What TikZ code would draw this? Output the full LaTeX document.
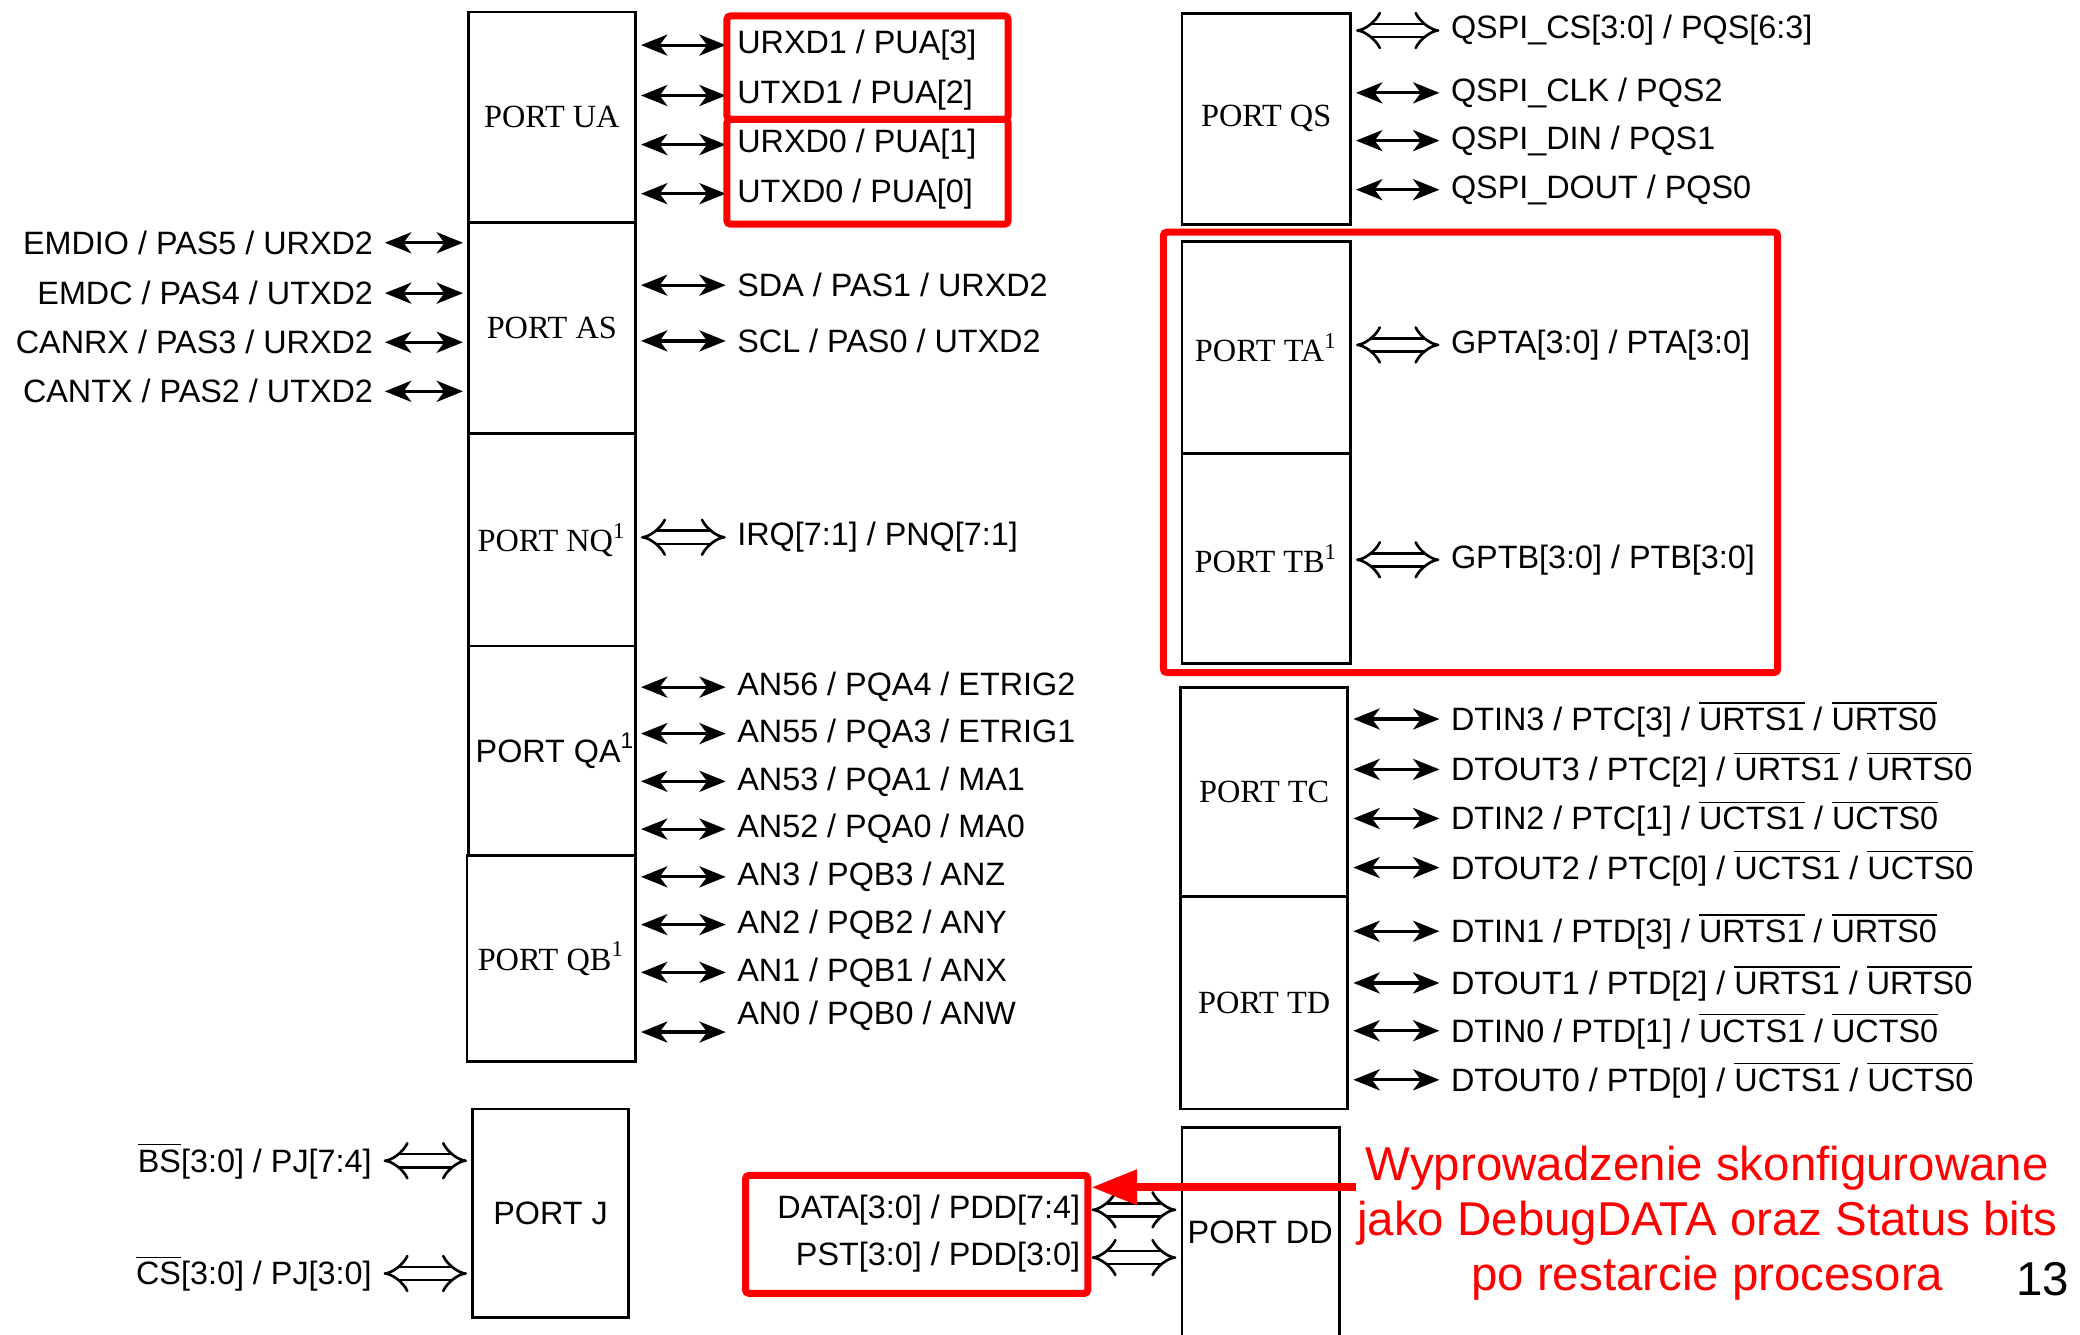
\documentclass[tikz,border=0pt]{standalone}
\usepackage{fontspec}
\setmainfont{Liberation Serif}
\setsansfont{Liberation Sans}
\usepackage{xcolor}
\usetikzlibrary{arrows.meta,fit}
\definecolor{hlred}{HTML}{FF0000}
\newcommand\lblsize{\fontsize{9.2}{11}\selectfont}
\newcommand\ovl[1]{$\overline{\mbox{#1}}$}

\begin{document}
\begin{tikzpicture}[x=0.013265cm,y=-0.013265cm,font=\sffamily\lblsize,
  port/.style={draw,line width=0.8pt,inner sep=0pt},
  portlbl/.style={inner sep=1pt,font=\rmfamily\lblsize},
  sig/.style={inner sep=2pt},
  sigarrow/.style={{Stealth[length=7.5pt,width=6pt,inset=2.2pt]}-{Stealth[length=7.5pt,width=6pt,inset=2.2pt]},line width=0.9pt,shorten <=1.2pt,shorten >=1.1pt},
  busarrow/.style={double,double distance=3pt,line width=0.75pt,{Implies}-{Implies},shorten <=1.2pt,shorten >=1.1pt},
  hl/.style={draw=hlred,line width=2pt,rounded corners=1pt,inner sep=0pt}]
\useasboundingbox (0,0) rectangle (1568,1006);
% left column of ports
\node[port,fit={(353,9)(479,168)}] (ua) {}; \node[portlbl] (ualbl) at (ua) {PORT UA};
\node[port,fit={(353,168)(479,327)}] (as) {}; \node[portlbl] (aslbl) at (as) {PORT AS};
\node[port,fit={(353,327)(479,487)}] (nq) {}; \node[portlbl] (nqlbl) at (nq) {PORT NQ\textsuperscript{1}};
\node[port,fit={(353,487)(479,645)}] (qa) {}; \node[portlbl,font=\sffamily\lblsize,xshift=1pt] (qalbl) at (qa) {PORT QA\textsuperscript{1}};
\node[port,fit={(352,645)(479,800)}] (qb) {}; \node[portlbl] (qblbl) at (qb) {PORT QB\textsuperscript{1}};
\node[port,fit={(356,836)(474,993)}] (pj) {}; \node[portlbl,font=\sffamily\lblsize] (pjlbl) at (pj) {PORT J};
% right column of ports
\node[port,fit={(891,10)(1018,169)}] (qs) {}; \node[portlbl] (qslbl) at (qs) {PORT QS};
\node[port,fit={(891,182)(1018,342)}] (ta) {}; \node[portlbl] (talbl) at (ta) {PORT TA\textsuperscript{1}};
\node[port,fit={(891,342)(1018,500)}] (tb) {}; \node[portlbl] (tblbl) at (tb) {PORT TB\textsuperscript{1}};
\node[port,fit={(890,518)(1016,676)}] (tc) {}; \node[portlbl] (tclbl) at (tc) {PORT TC};
\node[port,fit={(890,676)(1016,836)}] (td) {}; \node[portlbl] (tdlbl) at (td) {PORT TD};
\node[port,fit={(891,850)(1010,1012)}] (dd) {}; \node[portlbl,font=\sffamily\lblsize] (ddlbl) at (950,929) {PORT DD};
% port UA
\node[sig,anchor=west] (u3) at (550,34) {URXD1 / PUA[3]}; \draw[sigarrow] (ua.east |- u3.west) -- (u3.west);
\node[sig,anchor=west] (u2) at (550,72) {UTXD1 / PUA[2]}; \draw[sigarrow] (ua.east |- u2.west) -- (u2.west);
\node[sig,anchor=west] (u1) at (550,109) {URXD0 / PUA[1]}; \draw[sigarrow] (ua.east |- u1.west) -- (u1.west);
\node[sig,anchor=west] (u0) at (550,146) {UTXD0 / PUA[0]}; \draw[sigarrow] (ua.east |- u0.west) -- (u0.west);
% port AS
\node[sig,anchor=east] (a5) at (287,183) {EMDIO / PAS5 / URXD2}; \draw[sigarrow] (a5.east) -- (a5.east -| as.west);
\node[sig,anchor=east] (a4) at (287,221) {EMDC / PAS4 / UTXD2}; \draw[sigarrow] (a4.east) -- (a4.east -| as.west);
\node[sig,anchor=east] (a3) at (287,258) {CANRX / PAS3 / URXD2}; \draw[sigarrow] (a3.east) -- (a3.east -| as.west);
\node[sig,anchor=east] (a2) at (287,295) {CANTX / PAS2 / UTXD2}; \draw[sigarrow] (a2.east) -- (a2.east -| as.west);
\node[sig,anchor=west] (a1) at (550,215) {SDA / PAS1 / URXD2}; \draw[sigarrow] (as.east |- a1.west) -- (a1.west);
\node[sig,anchor=west] (a0) at (550,257) {SCL / PAS0 / UTXD2}; \draw[sigarrow] (as.east |- a0.west) -- (a0.west);
% port NQ
\node[sig,anchor=west] (irq) at (550,405) {IRQ[7:1] / PNQ[7:1]}; \draw[busarrow] (nq.east |- irq.west) -- (irq.west);
% port QA
\node[sig,anchor=west] (qa4) at (550,518) {AN56 / PQA4 / ETRIG2}; \draw[sigarrow] (qa.east |- qa4.west) -- (qa4.west);
\node[sig,anchor=west] (qa3) at (550,553) {AN55 / PQA3 / ETRIG1}; \draw[sigarrow] (qa.east |- qa3.west) -- (qa3.west);
\node[sig,anchor=west] (qa1) at (550,589) {AN53 / PQA1 / MA1}; \draw[sigarrow] (qa.east |- qa1.west) -- (qa1.west);
\node[sig,anchor=west] (qa0) at (550,625) {AN52 / PQA0 / MA0}; \draw[sigarrow] (qa.east |- qa0.west) -- (qa0.west);
% port QB
\node[sig,anchor=west] (qb3) at (550,661) {AN3 / PQB3 / ANZ}; \draw[sigarrow] (qb.east |- qb3.west) -- (qb3.west);
\node[sig,anchor=west] (qb2) at (550,697) {AN2 / PQB2 / ANY}; \draw[sigarrow] (qb.east |- qb2.west) -- (qb2.west);
\node[sig,anchor=west] (qb1) at (550,733) {AN1 / PQB1 / ANX}; \draw[sigarrow] (qb.east |- qb1.west) -- (qb1.west);
\node[sig,anchor=west] (qb0) at (550,766) {AN0 / PQB0 / ANW};
\coordinate (qb0end) at (550,778); \draw[sigarrow] (qb.east |- qb0end) -- (qb0end);
% port J
\node[sig,anchor=east] (bs) at (286,875) {\ovl{BS}[3:0] / PJ[7:4]}; \draw[busarrow] (bs.east) -- (bs.east -| pj.west);
\node[sig,anchor=east] (cs) at (286,960) {\ovl{CS}[3:0] / PJ[3:0]}; \draw[busarrow] (cs.east) -- (cs.east -| pj.west);
% port QS
\node[sig,anchor=west] (qspics) at (1088,23) {QSPI\_CS[3:0] / PQS[6:3]}; \draw[busarrow] (qs.east |- qspics.west) -- (qspics.west);
\node[sig,anchor=west] (qspiclk) at (1088,70) {QSPI\_CLK / PQS2}; \draw[sigarrow] (qs.east |- qspiclk.west) -- (qspiclk.west);
\node[sig,anchor=west] (qspidin) at (1088,106) {QSPI\_DIN / PQS1}; \draw[sigarrow] (qs.east |- qspidin.west) -- (qspidin.west);
\node[sig,anchor=west] (qspidout) at (1088,143) {QSPI\_DOUT / PQS0}; \draw[sigarrow] (qs.east |- qspidout.west) -- (qspidout.west);
% ports TA, TB
\node[sig,anchor=west] (gpta) at (1088,260) {GPTA[3:0] / PTA[3:0]}; \draw[busarrow] (ta.east |- gpta.west) -- (gpta.west);
\node[sig,anchor=west] (gptb) at (1088,422) {GPTB[3:0] / PTB[3:0]}; \draw[busarrow] (tb.east |- gptb.west) -- (gptb.west);
% port TC
\node[sig,anchor=west] (tc3) at (1088,542) {DTIN3 / PTC[3] / \ovl{URTS1} / \ovl{URTS0}}; \draw[sigarrow] (tc.east |- tc3.west) -- (tc3.west);
\node[sig,anchor=west] (tc2) at (1088,580) {DTOUT3 / PTC[2] / \ovl{URTS1} / \ovl{URTS0}}; \draw[sigarrow] (tc.east |- tc2.west) -- (tc2.west);
\node[sig,anchor=west] (tc1) at (1088,617) {DTIN2 / PTC[1] / \ovl{UCTS1} / \ovl{UCTS0}}; \draw[sigarrow] (tc.east |- tc1.west) -- (tc1.west);
\node[sig,anchor=west] (tc0) at (1088,654) {DTOUT2 / PTC[0] / \ovl{UCTS1} / \ovl{UCTS0}}; \draw[sigarrow] (tc.east |- tc0.west) -- (tc0.west);
% port TD
\node[sig,anchor=west] (td3) at (1088,702) {DTIN1 / PTD[3] / \ovl{URTS1} / \ovl{URTS0}}; \draw[sigarrow] (td.east |- td3.west) -- (td3.west);
\node[sig,anchor=west] (td2) at (1088,741) {DTOUT1 / PTD[2] / \ovl{URTS1} / \ovl{URTS0}}; \draw[sigarrow] (td.east |- td2.west) -- (td2.west);
\node[sig,anchor=west] (td1) at (1088,777) {DTIN0 / PTD[1] / \ovl{UCTS1} / \ovl{UCTS0}}; \draw[sigarrow] (td.east |- td1.west) -- (td1.west);
\node[sig,anchor=west] (td0) at (1088,814) {DTOUT0 / PTD[0] / \ovl{UCTS1} / \ovl{UCTS0}}; \draw[sigarrow] (td.east |- td0.west) -- (td0.west);
% port DD
\node[sig,anchor=east] (ddata) at (820,912) {DATA[3:0] / PDD[7:4]}; \draw[busarrow] (dd.west |- ddata.east) -- (ddata.east);
\node[sig,anchor=east] (dpst) at (820,948) {PST[3:0] / PDD[3:0]}; \draw[busarrow] (dd.west |- dpst.east) -- (dpst.east);
% red highlights
\node[hl,fit={(548,12)(760,90)}] (hlua1) {};
\node[hl,fit={(548,90)(760,169)}] (hlua0) {};
\node[hl,fit={(877,175)(1340,507)}] (hlt) {};
\node[hl,fit={(562,886)(820,975)}] (hldd) {};
\coordinate (notetail) at (1022,895);
\draw[hlred,line width=2.4pt,-{Triangle[length=13pt,width=9.5pt]}] (notetail) -- (notetail -| hldd.east);
\node[text=hlred,align=center,font=\sffamily\fontsize{13.5}{15.6}\selectfont] (note) at (1287,922) {Wyprowadzenie skonfigurowane\\jako DebugDATA oraz Status bits\\po restarcie procesora};
\node[font=\sffamily\fontsize{13.5}{15.6}\selectfont] (pagenum) at (1540,964) {13};
\end{tikzpicture}
\end{document}
